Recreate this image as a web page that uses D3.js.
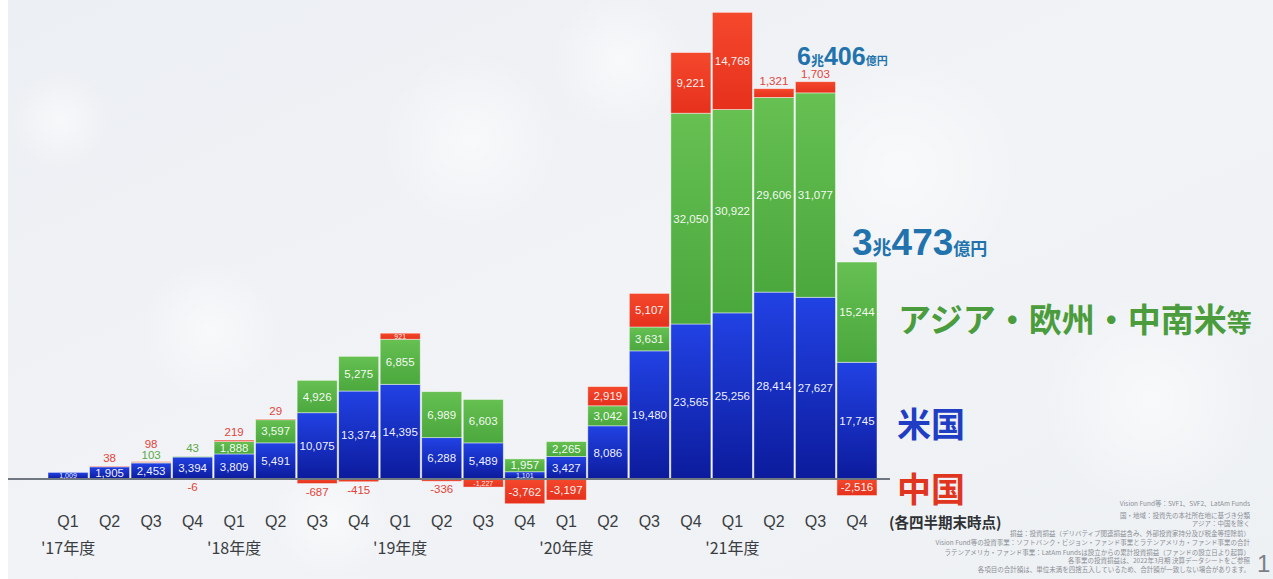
<!DOCTYPE html>
<html><head><meta charset="utf-8">
<script src="https://cdn.jsdelivr.net/npm/d3@7"></script>
<style>
html,body{margin:0;padding:0;background:#fff;}
svg{display:block;}
</style></head>
<body>
<svg id="c" width="1273" height="579"></svg>
<script>
// ---- data ----
const quarters = ["Q1","Q2","Q3","Q4","Q1","Q2","Q3","Q4","Q1","Q2","Q3","Q4","Q1","Q2","Q3","Q4","Q1","Q2","Q3","Q4"];
const fiscalYears = ["'17年度","'18年度","'19年度","'20年度","'21年度"];
const usValues    = [1009,1905,2453,3394,3809,5491,10075,13374,14395,6288,5489,1101,3427,8086,19480,23565,25256,28414,27627,17745];
const asiaValues  = [0,0,103,43,1888,3597,4926,5275,6855,6989,6603,1957,2265,3042,3631,32050,30922,29606,31077,15244];
const chinaValues = [0,38,98,-6,219,29,-687,-415,921,-336,-1227,-3762,-3197,2919,5107,9221,14768,1321,1703,-2516];
const totalLabels = [{i:18, big:"6", mid:"兆", big2:"406", small:"億円"},{i:19, big:"3", mid:"兆", big2:"473", small:"億円"}];
const legendLabels = ["アジア・欧州・中南米", "等", "米国", "中国", "(各四半期末時点)"];
const footnotes = [
 "Vision Fund等：SVF1、SVF2、LatAm Funds",
 "国・地域：投資先の本社所在地に基づき分類",
 "アジア：中国を除く",
 "損益：投資損益（デリバティブ関連損益含み、外部投資家持分及び税金等控除前）",
 "Vision Fund等の投資事業：ソフトバンク・ビジョン・ファンド事業とラテンアメリカ・ファンド事業の合計",
 "ラテンアメリカ・ファンド事業：LatAm Fundsは設立からの累計投資損益（ファンドの設立日より起算）",
 "各事業の投資損益は、2022年3月期 決算データシートをご参照",
 "各項目の合計額は、単位未満を四捨五入しているため、合計額が一致しない場合があります。"
];

// ---- setup ----
const svg = d3.select("#c");
const W = 1273, H = 579;
const defs = svg.append("defs");
const bg = defs.append("linearGradient").attr("id","bg").attr("x1",0).attr("y1",0).attr("x2",1).attr("y2",1);
bg.append("stop").attr("offset","0%").attr("stop-color","#eceff3");
bg.append("stop").attr("offset","50%").attr("stop-color","#f1f3f6");
bg.append("stop").attr("offset","100%").attr("stop-color","#eef1f4");
function grad(id, top, bottom){
  const g = defs.append("linearGradient").attr("id",id).attr("x1",0).attr("y1",0).attr("x2",0).attr("y2",1);
  g.append("stop").attr("offset","0%").attr("stop-color",top);
  g.append("stop").attr("offset","100%").attr("stop-color",bottom);
}
grad("gBlue","#2242e4","#0c1b9c");
grad("gGreen","#66c052","#4ba83d");
grad("gRed","#f4482c","#e6311d");
const glow = defs.append("radialGradient").attr("id","glow");
glow.append("stop").attr("offset","0%").attr("stop-color","#ffffff").attr("stop-opacity",0.55);
glow.append("stop").attr("offset","100%").attr("stop-color","#ffffff").attr("stop-opacity",0);

svg.append("rect").attr("width",W).attr("height",H).attr("fill","#ffffff");
svg.append("rect").attr("x",8).attr("width",W-8).attr("height",H).attr("fill","url(#bg)");
[[210,330,70],[470,140,90],[60,120,50],[330,520,60],[900,170,120],[1150,400,110],[620,60,70]].forEach(([cx,cy,r])=>{
  svg.append("circle").attr("cx",cx).attr("cy",cy).attr("r",r).attr("fill","url(#glow)");
});

const idx = d3.range(quarters.length);
const x = d3.scaleBand().domain(idx).range([48,877]).paddingInner(0.035).paddingOuter(0);
const y = d3.scaleLinear().domain([0,71000]).range([479,12]);

// segments
const segs = [];
idx.forEach(i=>{
  const u = usValues[i], a = asiaValues[i], c = chinaValues[i];
  segs.push({i, key:"us", v:u, y0:0, y1:u});
  if (a>0) segs.push({i, key:"asia", v:a, y0:u, y1:u+a});
  if (c>0) segs.push({i, key:"china", v:c, y0:u+a, y1:u+a+c});
  if (c<0) segs.push({i, key:"china", v:c, y0:c, y1:0});
});
const fills = {us:"url(#gBlue)", asia:"url(#gGreen)", china:"url(#gRed)"};
const textCol = {us:"#1c3cc8", asia:"#5aa845", china:"#e2453a"};

svg.append("g").selectAll("rect").data(segs).join("rect")
  .attr("x", d=>x(d.i)).attr("width", x.bandwidth())
  .attr("y", d=>y(d.y1)).attr("height", d=>Math.max(0.8, y(d.y0)-y(d.y1)))
  .attr("fill", d=>fills[d.key])
  .attr("stroke","rgba(255,255,255,0.55)").attr("stroke-width",0.8);

// baseline
svg.append("line").attr("x1",8).attr("x2",890).attr("y1",y(0)).attr("y2",y(0))
  .attr("stroke","#6f7780").attr("stroke-width",2);

// labels
const loc = d3.formatLocale({decimal:".", thousands:",", grouping:[3], currency:["",""], minus:"-"});
const fmt = loc.format(",");
const outside = new Set(["1-china","2-china","2-asia","3-asia","3-china","4-china","5-china","6-china","7-china","9-china","17-china","18-china"]);
const lab = svg.append("g").attr("font-family","Liberation Sans, Arial, sans-serif");
segs.forEach(d=>{
  const k = d.i+"-"+d.key;
  const cx = x(d.i)+x.bandwidth()/2;
  const h = y(d.y0)-y(d.y1);
  if (outside.has(k)) {
    let ty;
    if (d.v>0) {
      ty = y(d.y1)-4;
      if (d.key==="china" && d.i===2) ty = y(d.y1)-14;
    } else ty = y(d.y0)+12;
    if (d.key==="asia" && d.i===2) ty = y(d.y1)-3;
    lab.append("text").attr("x",cx).attr("y",ty).attr("text-anchor","middle")
      .attr("font-size",11.5).attr("fill",textCol[d.key]).text(fmt(d.v));
  } else {
    const fs = h < 9 ? 7 : 11.5;
    lab.append("text").attr("x",cx).attr("y",(y(d.y0)+y(d.y1))/2)
      .attr("dy","0.36em").attr("text-anchor","middle")
      .attr("font-size",fs).attr("fill","#ffffff").attr("fill-opacity",0.95).text(fmt(d.v));
  }
});

// x axis labels
const ax = svg.append("g").attr("font-family","Liberation Sans, Arial, sans-serif").attr("fill","#3a3d42");
ax.selectAll("text.q").data(idx).join("text").attr("class","q")
  .attr("x", i=>x(i)+x.bandwidth()/2).attr("y",527).attr("text-anchor","middle")
  .attr("font-size",16).text(i=>quarters[i]);
ax.selectAll("text.fy").data(fiscalYears).join("text").attr("class","fy")
  .attr("x",(d,j)=>x(j*4)+x.bandwidth()/2).attr("y",554).attr("text-anchor","middle")
  .attr("font-family","Noto Sans CJK JP, sans-serif").attr("font-size",16).text(d=>d);

// totals
const tot = svg.append("g").attr("font-family","Liberation Sans, Arial, sans-serif").attr("font-weight","bold").attr("fill","#2273ad");
const totPos = [[797,65,25,13,11],[852,255,37,19,17]];
totalLabels.forEach((t,j)=>{
  const [tx,ty,big,mid,small] = totPos[j];
  const txt = tot.append("text").attr("x",tx).attr("y",ty);
  txt.append("tspan").attr("font-size",big).text(t.big);
  txt.append("tspan").attr("font-size",mid).attr("font-family","Noto Sans CJK JP, sans-serif").text(t.mid);
  txt.append("tspan").attr("font-size",big).text(t.big2);
  txt.append("tspan").attr("font-size",small).attr("font-family","Noto Sans CJK JP, sans-serif").text(t.small);
});

// legend labels
const lg = svg.append("g").attr("font-family","Noto Sans CJK JP, sans-serif").attr("font-weight","bold");
const t1 = lg.append("text").attr("x",898).attr("y",332).attr("fill","#4b9c3c");
t1.append("tspan").attr("font-size",33).text(legendLabels[0]);
t1.append("tspan").attr("font-size",25).text(legendLabels[1]);
lg.append("text").attr("x",897).attr("y",437).attr("fill","#1f3ec4").attr("font-size",34).text(legendLabels[2]);
lg.append("text").attr("x",897).attr("y",502).attr("fill","#e0361f").attr("font-size",34).text(legendLabels[3]);
lg.append("text").attr("x",889).attr("y",528).attr("fill","#2e3034").attr("font-size",14.5).text(legendLabels[4]);

// footnotes
const fn = svg.append("g").attr("font-family","Noto Sans CJK JP, sans-serif").attr("font-size",6.5).attr("fill","#8a8e94").attr("text-anchor","end");
const fnY = [506,518,526,536,545,555,563,572];
footnotes.forEach((t,j)=>{
  fn.append("text").attr("x",1250).attr("y",fnY[j]).text(t);
});
svg.append("text").attr("x",1257).attr("y",572).attr("font-family","Liberation Sans, Arial, sans-serif")
  .attr("font-size",24).attr("fill","#7c8086").text("1");
</script>
</body></html>
